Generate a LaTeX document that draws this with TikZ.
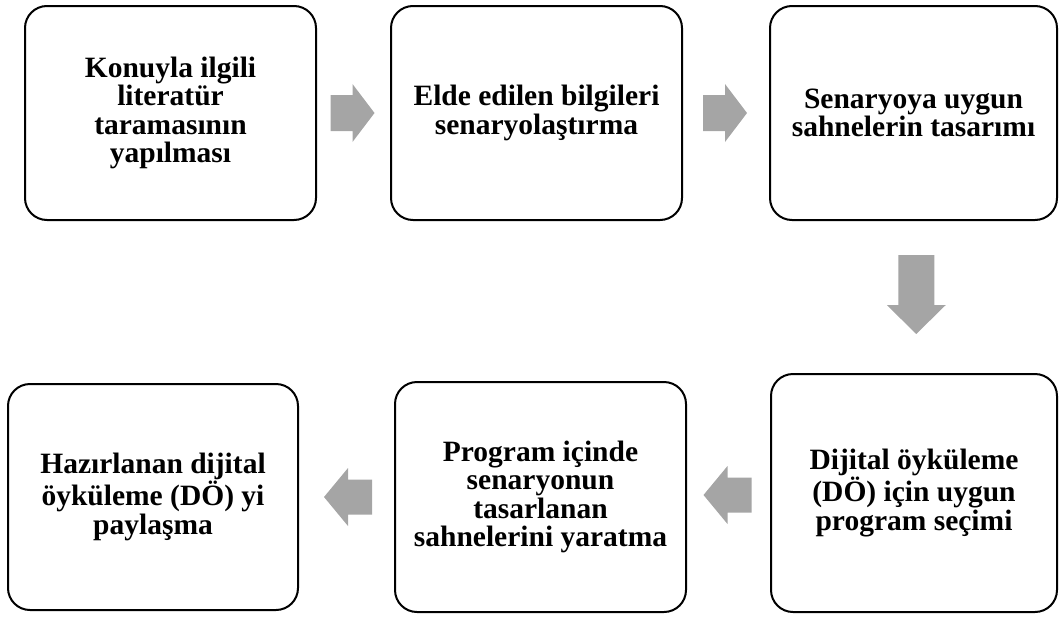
\documentclass[tikz,border=0pt]{standalone}
\usepackage{fontspec}
\setmainfont{Liberation Serif}
\usetikzlibrary{calc}
\definecolor{arrowgray}{RGB}{165,165,165}
\begin{document}
\begin{tikzpicture}[x=1pt,y=-1pt,
  stepbox/.style={draw=black, line width=2pt, rounded corners=22pt, fill=white,
    align=center, inner sep=0pt,
    font=\bfseries\fontsize{29.5}{28.5}\selectfont},
  arrowfill/.style={fill=arrowgray, draw=none},
  rarrow/.pic={\fill[arrowfill] (-23,-18) -- (-1,-18) -- (-1,-29) -- (21,0) -- (-1,29) -- (-1,18) -- (-23,18) -- cycle;},
  larrow/.pic={\fill[arrowfill] (25.5,-17.5) -- (1.5,-17.5) -- (1.5,-29) -- (-22.5,0) -- (1.5,29) -- (1.5,17.5) -- (25.5,17.5) -- cycle;},
  darrow/.pic={\fill[arrowfill] (-18,-42) -- (18,-42) -- (18,8) -- (29.5,8) -- (0,37) -- (-29.5,8) -- (-18,8) -- cycle;}
]
\useasboundingbox (0,0) rectangle (1059,616);

\node[stepbox, minimum width=291pt, minimum height=214pt] (b1) at (170.5,113)
  {Konuyla ilgili\\literatür\\taramasının\\yapılması};
\node[stepbox, minimum width=291pt, minimum height=214pt] (b2) at (536.5,113)
  {Elde edilen bilgileri\\senaryolaştırma};
\node[stepbox, minimum width=287pt, minimum height=214pt] (b3) at (913.5,113)
  {Senaryoya uygun\\sahnelerin tasarımı};
\node[stepbox, minimum width=286pt, minimum height=238pt] (b6) at (914,493)
  {Dijital öyküleme\\(DÖ) için uygun\\program seçimi};
\node[stepbox, minimum width=291pt, minimum height=230pt] (b5) at (540.5,497)
  {Program içinde\\senaryonun\\tasarlanan\\sahnelerini yaratma};
\node[stepbox, minimum width=290pt, minimum height=226pt] (b4) at (153,497)
  {Hazırlanan dijital\\öyküleme (DÖ) yi\\paylaşma};

\pic at ($(b1.east)!0.5!(b2.west)$) {rarrow};
\pic at ($(b2.east)!0.5!(b3.west)$) {rarrow};
\pic at ($(b3.south)!0.5!(b6.north)+(2.5,0)$) {darrow};
\pic at ($(b5.west)!0.5!(b6.east)$) {larrow};
\pic at ($(b4.east)!0.5!(b5.west)$) {larrow};
\end{tikzpicture}
\end{document}
